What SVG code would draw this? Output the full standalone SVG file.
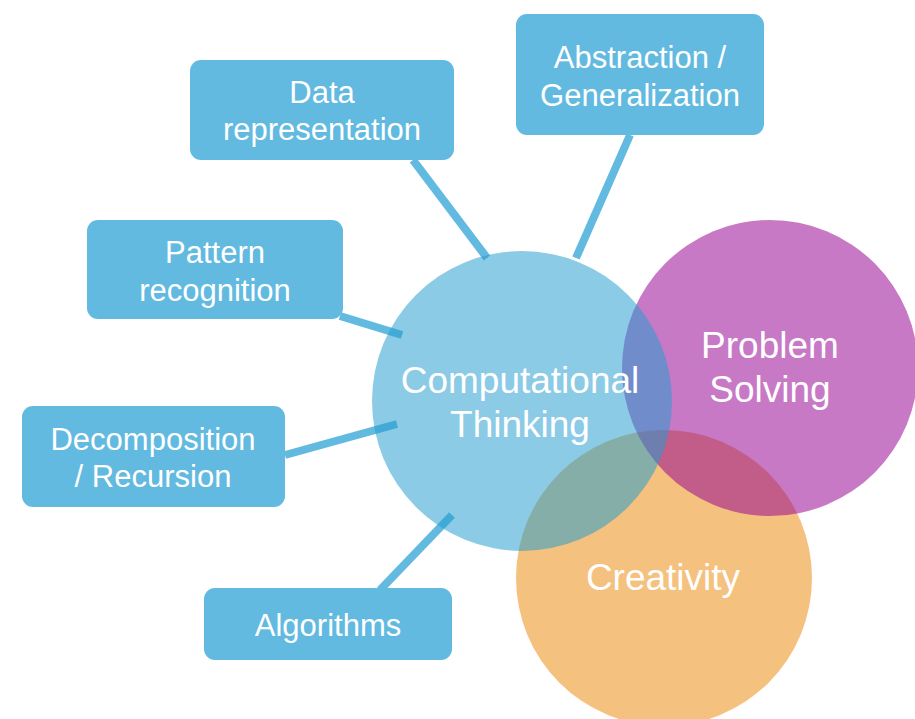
<svg xmlns="http://www.w3.org/2000/svg" width="915" height="719" viewBox="0 0 915 719">
<style>
.box{fill:#62BAE0}
.bt{fill:#fff;font-family:"Liberation Sans",Arial,sans-serif;font-size:31px;text-anchor:middle}
.ct{fill:#fff;font-family:"Liberation Sans",Arial,sans-serif;font-size:37px;text-anchor:middle}
.conn line{stroke:#62BAE0;stroke-width:8}
</style>
<rect width="915" height="719" fill="#fff"/>
<g id="connectors" class="conn">
<line x1="413" y1="160" x2="487" y2="258"/>
<line x1="630" y1="135" x2="576" y2="258"/>
<line x1="340" y1="316" x2="402" y2="335"/>
<line x1="285" y1="455" x2="397" y2="424"/>
<line x1="380" y1="590" x2="452" y2="515"/>
</g>
<g id="creativity">
<circle cx="664" cy="578" r="148" fill="#EC8A0C" fill-opacity="0.53"/>
<text class="ct" x="663" y="590">Creativity</text>
</g>
<g id="problem-solving">
<circle cx="770" cy="368" r="148" fill="#950294" fill-opacity="0.53"/>
<text class="ct" x="770" y="358">Problem</text>
<text class="ct" x="770" y="402">Solving</text>
</g>
<g id="computational-thinking">
<circle cx="522" cy="401" r="150" fill="#249DD0" fill-opacity="0.53"/>
<text class="ct" x="520" y="393">Computational</text>
<text class="ct" x="520" y="437">Thinking</text>
</g>
<g id="data-representation">
<rect class="box" x="190" y="60" width="264" height="100" rx="11"/>
<text class="bt" x="322" y="103">Data</text>
<text class="bt" x="322" y="140">representation</text>
</g>
<g id="abstraction">
<rect class="box" x="516" y="14" width="248" height="121" rx="11"/>
<text class="bt" x="640" y="68">Abstraction /</text>
<text class="bt" x="640" y="106">Generalization</text>
</g>
<g id="pattern-recognition">
<rect class="box" x="87" y="220" width="256" height="99" rx="11"/>
<text class="bt" x="215" y="263">Pattern</text>
<text class="bt" x="215" y="301">recognition</text>
</g>
<g id="decomposition">
<rect class="box" x="22" y="406" width="263" height="101" rx="11"/>
<text class="bt" x="153" y="450">Decomposition</text>
<text class="bt" x="153" y="487">/ Recursion</text>
</g>
<g id="algorithms">
<rect class="box" x="204" y="588" width="248" height="72" rx="11"/>
<text class="bt" x="328" y="636">Algorithms</text>
</g>
</svg>
